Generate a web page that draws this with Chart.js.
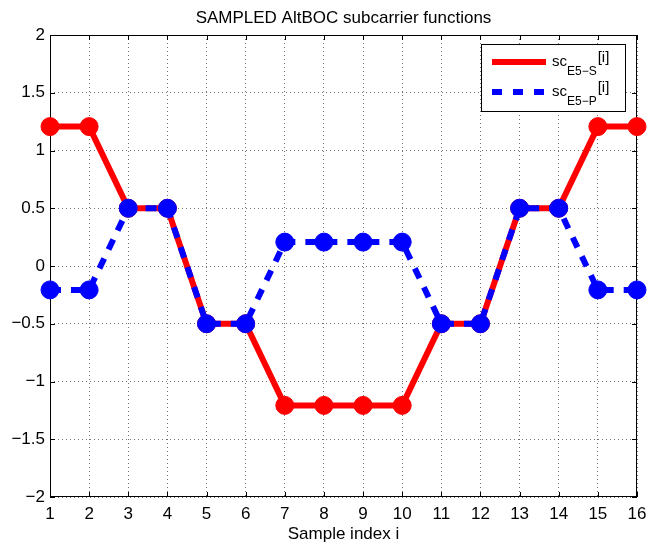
<!DOCTYPE html>
<html>
<head>
<meta charset="utf-8">
<title>AltBOC subcarrier</title>
<script src="https://cdn.jsdelivr.net/npm/chart.js@4.4.1/dist/chart.umd.min.js"></script>
<style>
  html, body { margin: 0; padding: 0; background: #fff; }
  #wrap { width: 647px; height: 547px; position: relative; }
</style>
</head>
<body>
<div id="wrap"><canvas id="scChart"></canvas></div>
<script>
const sampleIndex = [1, 2, 3, 4, 5, 6, 7, 8, 9, 10, 11, 12, 13, 14, 15, 16];
const scE5S = [1.207, 1.207, 0.5, 0.5, -0.5, -0.5, -1.207, -1.207, -1.207, -1.207, -0.5, -0.5, 0.5, 0.5, 1.207, 1.207];
const scE5P = [-0.207, -0.207, 0.5, 0.5, -0.5, -0.5, 0.207, 0.207, 0.207, 0.207, -0.5, -0.5, 0.5, 0.5, -0.207, -0.207];
const yTicks = [-2, -1.5, -1, -0.5, 0, 0.5, 1, 1.5, 2];

const FONT = "Liberation Sans, Arial, Helvetica, sans-serif";

function toPoints(ys) {
  return sampleIndex.map((x, i) => ({ x: x, y: ys[i] }));
}

// frame, inward ticks, title, axis label and the legend
const matlabAxes = {
  id: "matlabAxes",
  beforeDatasetsDraw(chart) {
    const { ctx, chartArea: a, scales } = chart;
    ctx.save();
    ctx.strokeStyle = "#000";
    ctx.lineWidth = 1;
    ctx.strokeRect(a.left + 0.5, a.top + 0.5, a.right - a.left - 1, a.bottom - a.top - 1);
    ctx.beginPath();
    sampleIndex.forEach((v) => {
      const x = Math.round(scales.x.getPixelForValue(v)) + 0.5;
      ctx.moveTo(x, a.bottom); ctx.lineTo(x, a.bottom - 5);
      ctx.moveTo(x, a.top); ctx.lineTo(x, a.top + 5);
    });
    yTicks.forEach((v) => {
      const y = Math.round(scales.y.getPixelForValue(v)) + 0.5;
      ctx.moveTo(a.left, y); ctx.lineTo(a.left + 5, y);
      ctx.moveTo(a.right, y); ctx.lineTo(a.right - 5, y);
    });
    ctx.stroke();
    ctx.restore();
  },
  afterDraw(chart) {
    const { ctx, chartArea: a } = chart;
    const cx = (a.left + a.right) / 2;
    ctx.save();
    ctx.fillStyle = "#000";
    ctx.textAlign = "center";
    ctx.textBaseline = "alphabetic";
    ctx.font = "17px " + FONT;
    ctx.fillText("SAMPLED AltBOC subcarrier functions", cx, 23);
    ctx.fillText("Sample index i", cx, 539);

    // legend box
    const bx = 481, by = 44, bw = 144, bh = 67;
    ctx.fillStyle = "#fff";
    ctx.fillRect(bx, by, bw, bh);
    ctx.strokeStyle = "#000";
    ctx.lineWidth = 1;
    ctx.strokeRect(bx + 0.5, by + 0.5, bw, bh);

    const entries = [
      { sub: "E5\u2212S", color: "#ff0000", dash: [], y: 62 },
      { sub: "E5\u2212P", color: "#0000ff", dash: [10, 11], y: 92 }
    ];
    entries.forEach((e) => {
      ctx.beginPath();
      ctx.strokeStyle = e.color;
      ctx.lineWidth = 6;
      ctx.setLineDash(e.dash);
      ctx.moveTo(492, e.y);
      ctx.lineTo(546, e.y);
      ctx.stroke();
      ctx.setLineDash([]);

      ctx.fillStyle = "#000";
      ctx.textAlign = "left";
      ctx.font = "15px " + FONT;
      ctx.fillText("sc", 552, e.y + 4);
      const w1 = ctx.measureText("sc").width;
      ctx.font = "12px " + FONT;
      ctx.fillText(e.sub, 552 + w1, e.y + 13);
      const w2 = ctx.measureText(e.sub).width;
      ctx.font = "15px " + FONT;
      ctx.fillText("[i]", 553 + w1 + w2, e.y);
    });
    ctx.restore();
  }
};

new Chart(document.getElementById("scChart"), {
  type: "line",
  data: {
    datasets: [
      {
        label: "sc E5-S[i]",
        data: toPoints(scE5S),
        borderColor: "#ff0000",
        backgroundColor: "#ff0000",
        borderWidth: 6,
        pointRadius: 9,
        pointBorderWidth: 1,
        pointBackgroundColor: "#ff0000",
        pointBorderColor: "#ff0000",
        tension: 0,
        clip: false,
        order: 2
      },
      {
        label: "sc E5-P[i]",
        data: toPoints(scE5P),
        borderColor: "#0000ff",
        backgroundColor: "#0000ff",
        borderWidth: 6,
        borderDash: [11, 10],
        pointRadius: 9,
        pointBorderWidth: 1,
        pointBackgroundColor: "#0000ff",
        pointBorderColor: "#0000ff",
        tension: 0,
        clip: false,
        order: 1
      }
    ]
  },
  options: {
    responsive: true,
    maintainAspectRatio: false,
    animation: false,
    layout: { padding: { left: 0, right: 10, top: 35, bottom: 0 } },
    plugins: {
      legend: { display: false },
      tooltip: { enabled: false },
      title: { display: false }
    },
    scales: {
      x: {
        type: "linear",
        min: 1,
        max: 16,
        afterFit: (s) => {
          s.height = 50;
          s.paddingLeft = 0;
          s.paddingRight = 0;
        },
        afterBuildTicks: (s) => { s.ticks = sampleIndex.map((v) => ({ value: v })); },
        grid: {
          drawTicks: false,
          color: "rgba(0,0,0,0.55)",
          lineWidth: 1
        },
        border: { display: false, dash: [1, 3] },
        ticks: {
          color: "#000",
          font: { family: FONT, size: 17 },
          padding: 7,
          maxRotation: 0,
          autoSkip: false
        }
      },
      y: {
        min: -2,
        max: 2,
        afterFit: (s) => {
          s.width = 50;
          s.paddingTop = 0;
          s.paddingBottom = 0;
        },
        afterBuildTicks: (s) => { s.ticks = yTicks.map((v) => ({ value: v })); },
        grid: {
          drawTicks: false,
          color: "rgba(0,0,0,0.55)",
          lineWidth: 1
        },
        border: { display: false, dash: [1, 3] },
        ticks: {
          color: "#000",
          font: { family: FONT, size: 17 },
          padding: 5,
          autoSkip: false,
          callback: (v) => String(v).replace("-", "\u2212")
        }
      }
    }
  },
  plugins: [matlabAxes]
});
</script>
</body>
</html>
